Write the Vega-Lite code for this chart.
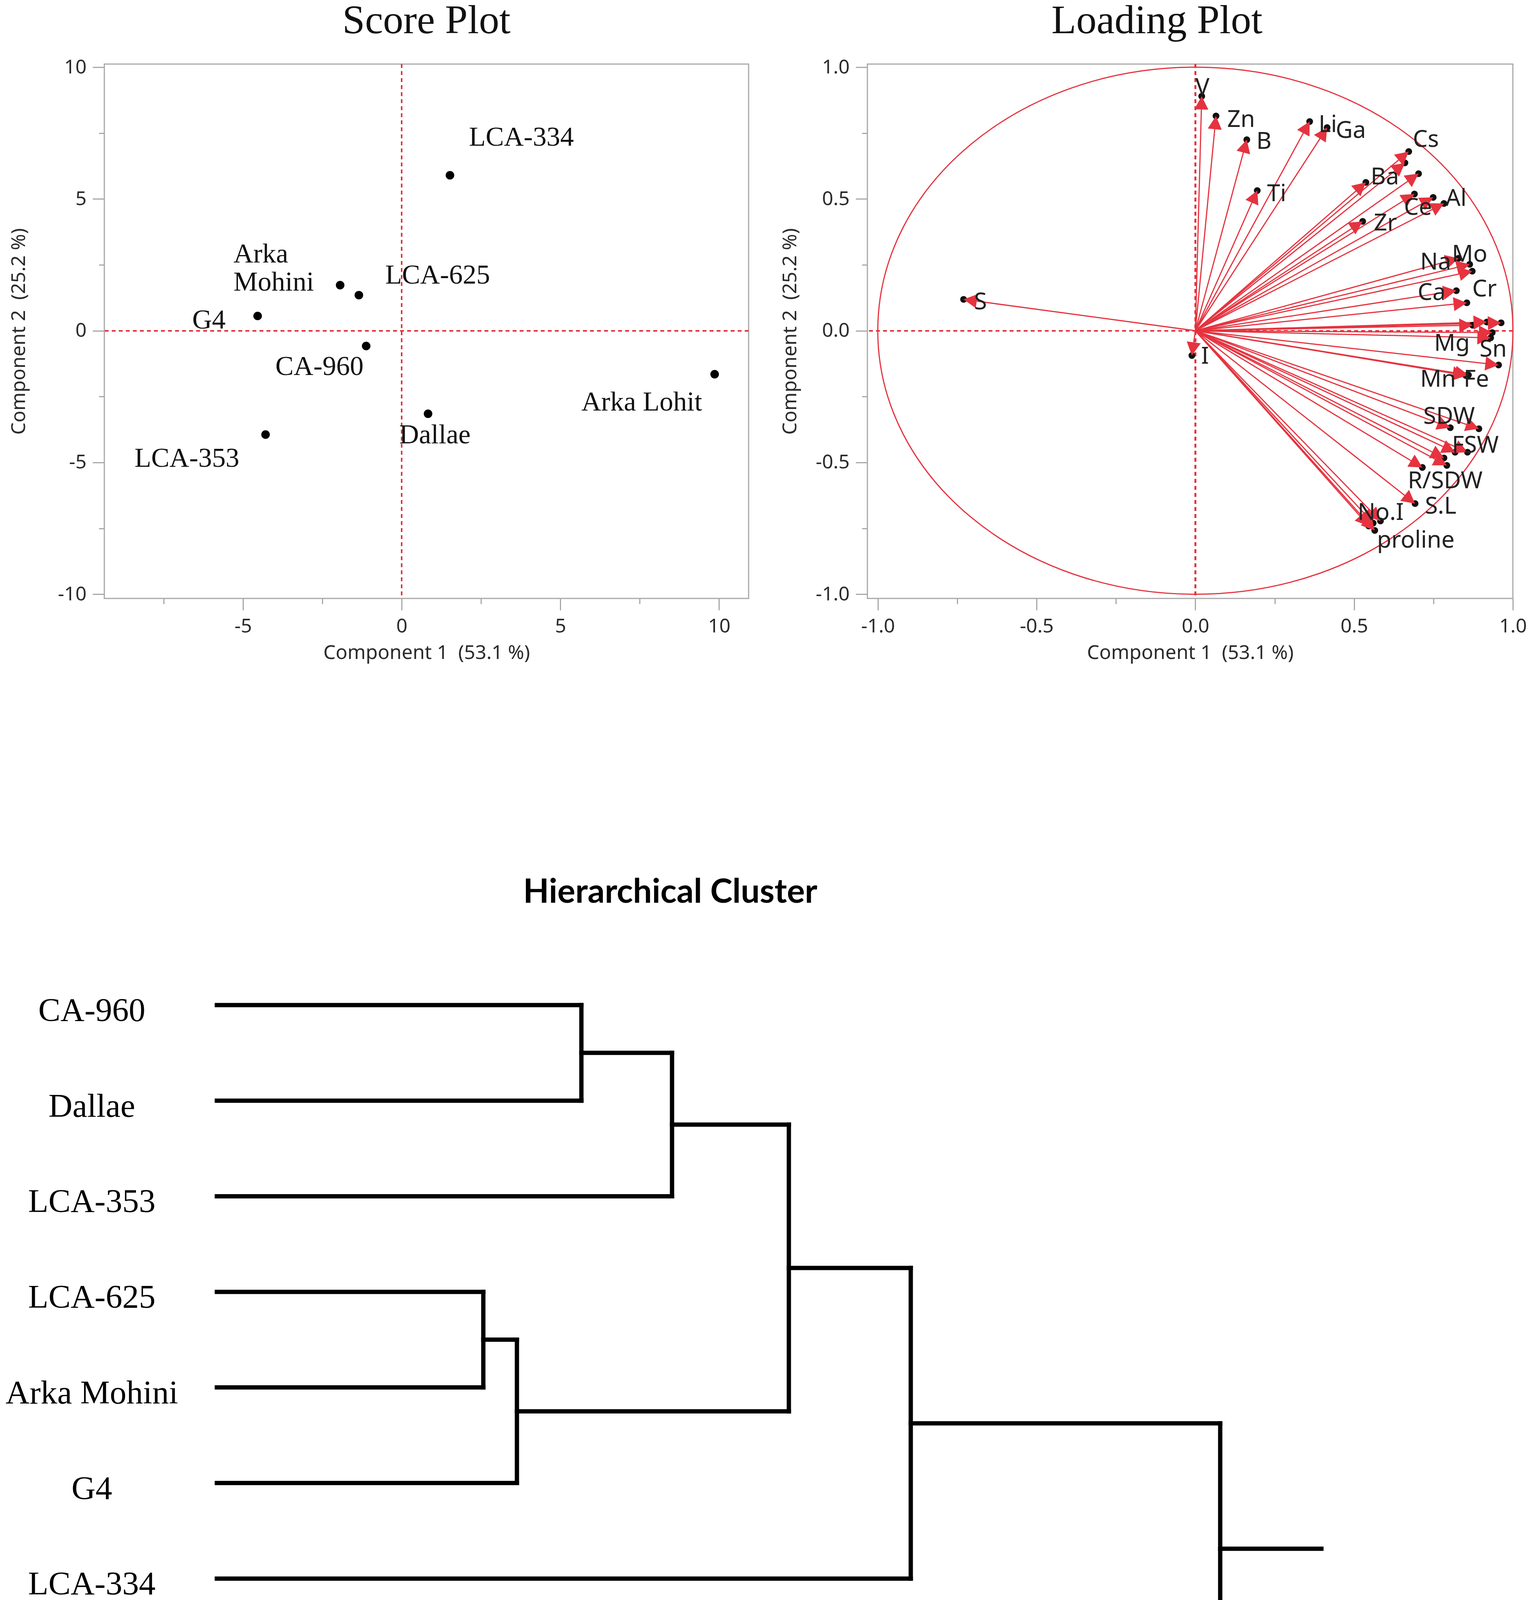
{
  "$schema": "https://vega.github.io/schema/vega-lite/v6.json",
  "background": "white",
  "padding": {"left": 14, "top": 0, "right": 60, "bottom": 400},
  "columns": 2,
  "align": "none",
  "bounds": "flush",
  "spacing": {"row": 1041, "column": 304},
  "config": {
    "font": "Noto Sans",
    "view": {"stroke": "#a8a8a8", "strokeWidth": 3},
    "axis": {
      "domain": false, "grid": false, "labelFlush": false, "labelOverlap": false,
      "tickColor": "#a8a8a8", "tickWidth": 3,
      "labelFont": "Noto Sans", "labelFontSize": 50, "labelColor": "#2b2b2b", "labelPadding": 16,
      "titleFont": "Noto Sans", "titleFontSize": 50, "titleFontWeight": "normal", "titleColor": "#2b2b2b"
    },
    "title": {"font": "Liberation Serif", "fontSize": 104, "fontWeight": "normal", "color": "#111111", "baseline": "alphabetic", "offset": 40, "frame": "group"}
  },
  "datasets": {
    "scores": [
      {"name": "LCA-334", "pc1": 1.52, "pc2": 5.9, "label": "LCA-334", "lx": 2.12, "ly": 7.33},
      {"name": "Arka Mohini", "pc1": -1.94, "pc2": 1.73, "label": ["Arka", "Mohini"], "lx": -5.3, "ly": 2.9},
      {"name": "LCA-625", "pc1": -1.35, "pc2": 1.35, "label": "LCA-625", "lx": -0.52, "ly": 2.1},
      {"name": "G4", "pc1": -4.54, "pc2": 0.56, "label": "G4", "lx": -6.6, "ly": 0.4},
      {"name": "CA-960", "pc1": -1.12, "pc2": -0.58, "label": "CA-960", "lx": -3.98, "ly": -1.37},
      {"name": "Dallae", "pc1": 0.83, "pc2": -3.15, "label": "Dallae", "lx": -0.08, "ly": -3.97},
      {"name": "LCA-353", "pc1": -4.29, "pc2": -3.94, "label": "LCA-353", "lx": -8.42, "ly": -4.86},
      {"name": "Arka Lohit", "pc1": 9.86, "pc2": -1.65, "label": "Arka Lohit", "lx": 5.66, "ly": -2.72}
    ],
    "loadings": [
      {"name": "V", "pc1": 0.02, "pc2": 0.89},
      {"name": "Zn", "pc1": 0.065, "pc2": 0.815},
      {"name": "B", "pc1": 0.162, "pc2": 0.725},
      {"name": "Ti", "pc1": 0.195, "pc2": 0.532},
      {"name": "Li", "pc1": 0.36, "pc2": 0.794},
      {"name": "Ga", "pc1": 0.415, "pc2": 0.771},
      {"name": "Cs", "pc1": 0.672, "pc2": 0.68},
      {"name": "u1", "pc1": 0.66, "pc2": 0.637},
      {"name": "u2", "pc1": 0.703, "pc2": 0.596},
      {"name": "Ba", "pc1": 0.537, "pc2": 0.563},
      {"name": "Ce", "pc1": 0.69, "pc2": 0.519},
      {"name": "u3", "pc1": 0.749, "pc2": 0.506},
      {"name": "Al", "pc1": 0.783, "pc2": 0.483},
      {"name": "Zr", "pc1": 0.527, "pc2": 0.415},
      {"name": "Na", "pc1": 0.829, "pc2": 0.275},
      {"name": "u4", "pc1": 0.864, "pc2": 0.252},
      {"name": "Mo", "pc1": 0.872, "pc2": 0.226},
      {"name": "Ca", "pc1": 0.822, "pc2": 0.152},
      {"name": "Cr", "pc1": 0.855, "pc2": 0.106},
      {"name": "u5", "pc1": 0.963, "pc2": 0.03},
      {"name": "u6", "pc1": 0.918, "pc2": 0.033},
      {"name": "u7", "pc1": 0.873, "pc2": 0.021},
      {"name": "Mg", "pc1": 0.935, "pc2": -0.007},
      {"name": "Sn", "pc1": 0.93, "pc2": -0.027},
      {"name": "u8", "pc1": 0.955, "pc2": -0.13},
      {"name": "Mn", "pc1": 0.852, "pc2": -0.17},
      {"name": "Fe", "pc1": 0.86, "pc2": -0.168},
      {"name": "SDW", "pc1": 0.803, "pc2": -0.368},
      {"name": "u9", "pc1": 0.893, "pc2": -0.372},
      {"name": "FSW", "pc1": 0.857, "pc2": -0.461},
      {"name": "u10", "pc1": 0.818, "pc2": -0.461},
      {"name": "u11", "pc1": 0.783, "pc2": -0.483},
      {"name": "u12", "pc1": 0.792, "pc2": -0.511},
      {"name": "R/SDW", "pc1": 0.715, "pc2": -0.519},
      {"name": "S.L", "pc1": 0.692, "pc2": -0.656},
      {"name": "No.I", "pc1": 0.56, "pc2": -0.73},
      {"name": "u13", "pc1": 0.583, "pc2": -0.722},
      {"name": "proline", "pc1": 0.565, "pc2": -0.758},
      {"name": "u14", "pc1": 0.546, "pc2": -0.741},
      {"name": "S", "pc1": -0.73, "pc2": 0.119},
      {"name": "I", "pc1": -0.011, "pc2": -0.094}
    ],
    "loadingLabels": [
      {"label": "V", "lx": 0.0, "ly": 0.922},
      {"label": "Zn", "lx": 0.1, "ly": 0.8},
      {"label": "B", "lx": 0.192, "ly": 0.717},
      {"label": "Ti", "lx": 0.226, "ly": 0.519},
      {"label": "Li", "lx": 0.388, "ly": 0.78},
      {"label": "Ga", "lx": 0.442, "ly": 0.758},
      {"label": "Cs", "lx": 0.685, "ly": 0.725},
      {"label": "Ba", "lx": 0.552, "ly": 0.582},
      {"label": "Ce", "lx": 0.657, "ly": 0.466},
      {"label": "Al", "lx": 0.788, "ly": 0.5},
      {"label": "Zr", "lx": 0.562, "ly": 0.407},
      {"label": "Na", "lx": 0.708, "ly": 0.259},
      {"label": "Mo", "lx": 0.808, "ly": 0.288},
      {"label": "Ca", "lx": 0.7, "ly": 0.143},
      {"label": "Cr", "lx": 0.872, "ly": 0.157},
      {"label": "Mg", "lx": 0.752, "ly": -0.049},
      {"label": "Sn", "lx": 0.895, "ly": -0.071},
      {"label": "Mn", "lx": 0.708, "ly": -0.186},
      {"label": "Fe", "lx": 0.845, "ly": -0.186},
      {"label": "SDW", "lx": 0.718, "ly": -0.326},
      {"label": "FSW", "lx": 0.808, "ly": -0.437},
      {"label": "R/SDW", "lx": 0.669, "ly": -0.572},
      {"label": "S.L", "lx": 0.723, "ly": -0.667},
      {"label": "No.I", "lx": 0.511, "ly": -0.692},
      {"label": "proline", "lx": 0.572, "ly": -0.796},
      {"label": "S", "lx": -0.697, "ly": 0.107},
      {"label": "I", "lx": 0.018, "ly": -0.099}
    ],
    "segments": [
      {"x1": 0, "x2": 9.33, "y1": 1, "y2": 1},
      {"x1": 0, "x2": 9.33, "y1": 2, "y2": 2},
      {"x1": 0, "x2": 11.65, "y1": 3, "y2": 3},
      {"x1": 0, "x2": 6.82, "y1": 4, "y2": 4},
      {"x1": 0, "x2": 6.82, "y1": 5, "y2": 5},
      {"x1": 0, "x2": 7.68, "y1": 6, "y2": 6},
      {"x1": 0, "x2": 17.76, "y1": 7, "y2": 7},
      {"x1": 0, "x2": 25.68, "y1": 8, "y2": 8},
      {"x1": 9.33, "x2": 11.65, "y1": 1.5, "y2": 1.5},
      {"x1": 6.82, "x2": 7.68, "y1": 4.5, "y2": 4.5},
      {"x1": 11.65, "x2": 14.64, "y1": 2.25, "y2": 2.25},
      {"x1": 7.68, "x2": 14.64, "y1": 5.25, "y2": 5.25},
      {"x1": 14.64, "x2": 17.76, "y1": 3.75, "y2": 3.75},
      {"x1": 17.76, "x2": 25.68, "y1": 5.375, "y2": 5.375},
      {"x1": 25.68, "x2": 28.27, "y1": 6.6875, "y2": 6.6875},
      {"x1": 9.33, "x2": 9.33, "y1": 1, "y2": 2},
      {"x1": 11.65, "x2": 11.65, "y1": 1.5, "y2": 3},
      {"x1": 6.82, "x2": 6.82, "y1": 4, "y2": 5},
      {"x1": 7.68, "x2": 7.68, "y1": 4.5, "y2": 6},
      {"x1": 14.64, "x2": 14.64, "y1": 2.25, "y2": 5.25},
      {"x1": 17.76, "x2": 17.76, "y1": 3.75, "y2": 7},
      {"x1": 25.68, "x2": 25.68, "y1": 5.375, "y2": 8}
    ],
    "leaves": [
      {"name": "CA-960", "pos": 1},
      {"name": "Dallae", "pos": 2},
      {"name": "LCA-353", "pos": 3},
      {"name": "LCA-625", "pos": 4},
      {"name": "Arka Mohini", "pos": 5},
      {"name": "G4", "pos": 6},
      {"name": "LCA-334", "pos": 7},
      {"name": "Arka Lohit", "pos": 8}
    ]
  },
  "concat": [
    {
      "width": 1649,
      "height": 1368,
      "title": {"text": "Score Plot", "anchor": "middle"},
      "resolve": {"axis": {"x": "independent", "y": "independent"}},
      "layer": [
        {
          "data": {"name": "scores"},
          "mark": {"type": "rule", "color": "#e5333f", "strokeWidth": 3.5, "strokeDash": [10, 8]},
          "encoding": {
            "x": {"datum": 0, "type": "quantitative",
              "axis": {"orient": "bottom", "values": [-7.5, -2.5, 2.5, 7.5], "labels": false, "title": null, "tickSize": 14}}
          }
        },
        {
          "data": {"name": "scores"},
          "mark": {"type": "rule", "color": "#e5333f", "strokeWidth": 3.5, "strokeDash": [10, 8]},
          "encoding": {
            "y": {"datum": 0, "type": "quantitative",
              "axis": {"orient": "left", "values": [-7.5, -2.5, 2.5, 7.5], "labels": false, "title": null, "tickSize": 14}}
          }
        },
        {
          "data": {"name": "scores"},
          "mark": {"type": "point", "filled": true, "color": "#000000", "size": 480, "opacity": 1},
          "encoding": {
            "x": {
              "field": "pc1", "type": "quantitative",
              "scale": {"domain": [-9.37, 10.93], "nice": false, "zero": false},
              "axis": {"orient": "bottom", "title": "Component 1\u00a0\u00a0(53.1 %)", "values": [-5, 0, 5, 10], "labelExpr": "'' + datum.value", "tickSize": 30, "titlePadding": 18}
            },
            "y": {
              "field": "pc2", "type": "quantitative",
              "scale": {"domain": [-10.16, 10.12], "nice": false, "zero": false},
              "axis": {"orient": "left", "title": "Component 2\u00a0\u00a0(25.2 %)", "values": [-10, -5, 0, 5, 10], "labelExpr": "'' + datum.value", "tickSize": 30, "titlePadding": 74}
            }
          }
        },
        {
          "data": {"name": "scores"},
          "mark": {"type": "text", "font": "Liberation Serif", "fontSize": 70, "align": "left", "baseline": "middle", "lineHeight": 72, "color": "#111111"},
          "encoding": {
            "x": {"field": "lx", "type": "quantitative", "axis": null},
            "y": {"field": "ly", "type": "quantitative", "axis": null},
            "text": {"field": "label", "type": "nominal"}
          }
        }
      ]
    },
    {
      "width": 1652,
      "height": 1368,
      "title": {"text": "Loading Plot", "anchor": "middle", "dx": -85},
      "resolve": {"axis": {"x": "independent", "y": "independent"}},
      "layer": [
        {
          "data": {"name": "loadings"},
          "mark": {"type": "rule", "color": "#e5333f", "strokeWidth": 3.5, "strokeDash": [10, 8]},
          "encoding": {
            "x": {"datum": 0, "type": "quantitative",
              "axis": {"orient": "bottom", "values": [-0.75, -0.25, 0.25, 0.75], "labels": false, "title": null, "tickSize": 14}}
          }
        },
        {
          "data": {"name": "loadings"},
          "mark": {"type": "rule", "color": "#e5333f", "strokeWidth": 3.5, "strokeDash": [10, 8]},
          "encoding": {
            "y": {"datum": 0, "type": "quantitative",
              "axis": {"orient": "left", "values": [-0.75, -0.25, 0.25, 0.75], "labels": false, "title": null, "tickSize": 14}}
          }
        },
        {
          "data": {"values": [{"pc1": 0, "pc2": 0}]},
          "mark": {
            "type": "point", "filled": false, "stroke": "#e5333f", "strokeWidth": 3, "opacity": 1,
            "shape": "M1,0C1,0.4584,0.5523,0.83,0,0.83C-0.5523,0.83,-1,0.4584,-1,0C-1,-0.4584,-0.5523,-0.83,0,-0.83C0.5523,-0.83,1,-0.4584,1,0Z",
            "size": 2642575
          },
          "encoding": {
            "x": {"field": "pc1", "type": "quantitative", "axis": null},
            "y": {"field": "pc2", "type": "quantitative", "axis": null}
          }
        },
        {
          "data": {"name": "loadings"},
          "mark": {"type": "rule", "color": "#e5333f", "strokeWidth": 3},
          "encoding": {
            "x": {"field": "pc1", "type": "quantitative", "axis": null},
            "y": {"field": "pc2", "type": "quantitative", "axis": null},
            "x2": {"datum": 0},
            "y2": {"datum": 0}
          }
        },
        {
          "data": {"name": "loadings"},
          "mark": {"type": "point", "filled": true, "color": "#111111", "size": 300, "opacity": 1},
          "encoding": {
            "x": {
              "field": "pc1", "type": "quantitative",
              "scale": {"domain": [-1.033, 1.0], "nice": false, "zero": false},
              "axis": {"orient": "bottom", "title": "Component 1\u00a0\u00a0(53.1 %)", "values": [-1, -0.5, 0, 0.5, 1],
                "labelExpr": "(datum.value < 0 ? '-' : '') + format(abs(datum.value), '.1f')", "tickSize": 30, "titlePadding": 18}
            },
            "y": {
              "field": "pc2", "type": "quantitative",
              "scale": {"domain": [-1.016, 1.012], "nice": false, "zero": false},
              "axis": {"orient": "left", "title": "Component 2\u00a0\u00a0(25.2 %)", "values": [-1, -0.5, 0, 0.5, 1],
                "labelExpr": "(datum.value < 0 ? '-' : '') + format(abs(datum.value), '.1f')", "tickSize": 30, "titlePadding": 40}
            }
          }
        },
        {
          "data": {"name": "loadings"},
          "transform": [{"calculate": "atan2(datum.pc1 * 812.8, datum.pc2 * 674.6) * 180 / PI", "as": "ang"}],
          "mark": {"type": "point", "filled": true, "color": "#e5333f", "opacity": 1, "shape": "M0,0L0.85,1.6L-0.85,1.6Z", "size": 1800},
          "encoding": {
            "x": {"field": "pc1", "type": "quantitative", "axis": null},
            "y": {"field": "pc2", "type": "quantitative", "axis": null},
            "angle": {"field": "ang", "type": "quantitative", "scale": null}
          }
        },
        {
          "data": {"name": "loadingLabels"},
          "mark": {"type": "text", "font": "Noto Sans", "fontSize": 60, "align": "left", "baseline": "middle", "color": "#222222"},
          "encoding": {
            "x": {"field": "lx", "type": "quantitative", "axis": null},
            "y": {"field": "ly", "type": "quantitative", "axis": null},
            "text": {"field": "label", "type": "nominal"}
          }
        }
      ]
    },
    {
      "width": 1649,
      "height": 1713,
      "view": {"stroke": null},
      "title": {"text": "Hierarchical Cluster", "font": "Lato", "fontWeight": "bold", "fontSize": 86, "color": "#000000", "anchor": "middle", "dx": 624, "offset": 149, "baseline": "alphabetic", "frame": "group"},
      "layer": [
        {
          "data": {"name": "segments"},
          "mark": {"type": "rule", "color": "#000000", "strokeWidth": 11, "strokeCap": "square"},
          "encoding": {
            "x": {"field": "x1", "type": "quantitative", "scale": {"domain": [-2.88, 13.61], "nice": false, "zero": false}, "axis": null},
            "x2": {"field": "x2"},
            "y": {"field": "y1", "type": "quantitative", "scale": {"domain": [1, 8], "nice": false, "zero": false, "reverse": true}, "axis": null},
            "y2": {"field": "y2"}
          }
        },
        {
          "data": {"name": "leaves"},
          "mark": {"type": "text", "font": "Liberation Serif", "fontSize": 85, "align": "center", "baseline": "middle", "dy": 15, "color": "#000000"},
          "encoding": {
            "x": {"datum": -3.2, "type": "quantitative", "axis": null},
            "y": {"field": "pos", "type": "quantitative", "axis": null},
            "text": {"field": "name", "type": "nominal"}
          }
        }
      ]
    }
  ]
}
